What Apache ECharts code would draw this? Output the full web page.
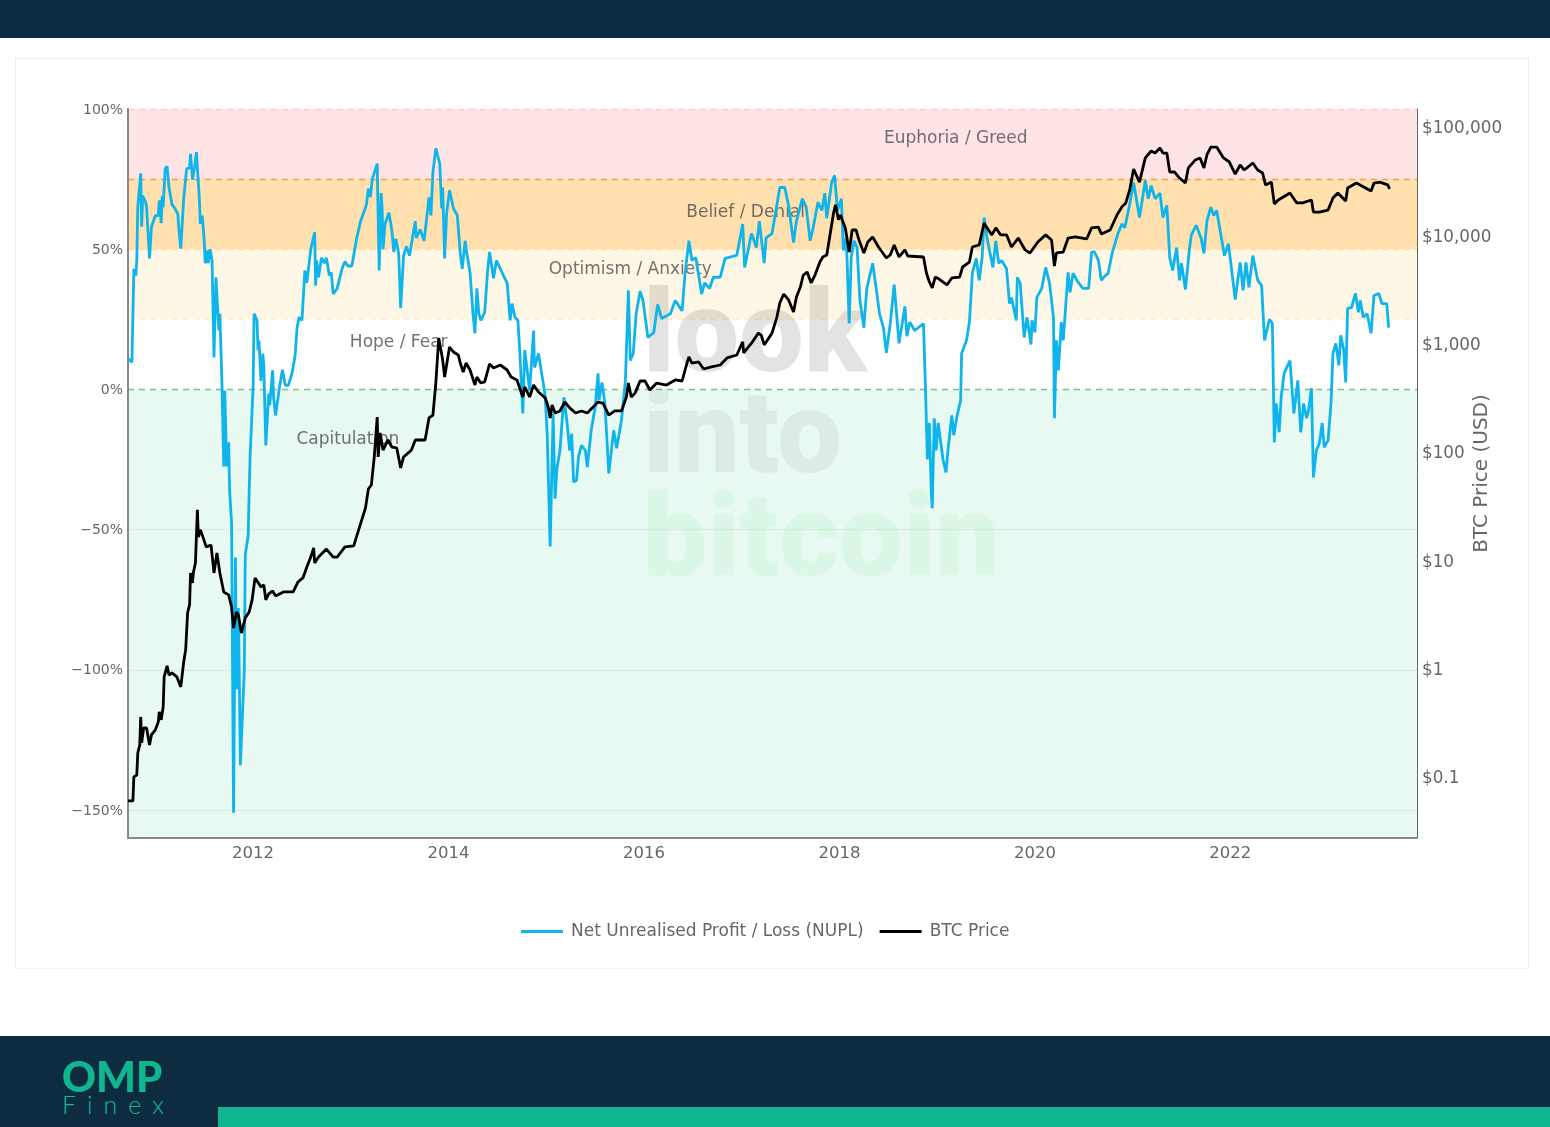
<!DOCTYPE html>
<html>
<head>
<meta charset="utf-8">
<title>NUPL</title>
<script src="https://cdn.jsdelivr.net/npm/echarts@6/dist/echarts.min.js"></script>
<style>
html, body { margin: 0; padding: 0; background: #fff; }
#page { position: relative; width: 1550px; height: 1127px; overflow: hidden; background: #fff; }
.bar { position: absolute; background: #0e2c40; left: 0; width: 1550px; }
#card { position: absolute; left: 15px; top: 58px; width: 1514px; height: 911px; border: 1px solid #eeeeee; border-bottom-color: #f2f2f2; box-sizing: border-box; }
#strip { position: absolute; left: 218px; top: 1107px; width: 1332px; height: 20px; background: #10b690; }
#omp { position: absolute; left: 62px; top: 1051px; font: 900 42px/50px Lato, sans-serif; color: #10b690; }
#finex { position: absolute; left: 62px; top: 1089px; font: 300 25px/30px Lato, sans-serif; color: #10b690; letter-spacing: 11px; }
#chart { position: absolute; left: 0; top: 0; width: 1550px; height: 1127px; }
</style>
</head>
<body>
<div id="page">
  <div class="bar" style="top:0;height:38px"></div>
  <div id="card"></div>
  <div class="bar" style="top:1036px;height:91px"></div>
  <div id="strip"></div>
  <div id="omp">OMP</div>
  <div id="finex">Finex</div>
  <div id="chart"></div>
</div>
<script>
var yearTicks = [2012, 2014, 2016, 2018, 2020, 2022];
var nuplTicks = [-150, -100, -50, 0, 50, 100];
var priceTicks = [0.1, 1, 10, 100, 1000, 10000, 100000];

// [year, NUPL %]
var nuplPoints = [
[2010.72,11],[2010.76,9.7],[2010.78,43],[2010.80,40.6],[2010.81,46],[2010.82,65],[2010.85,77],[2010.86,58],[2010.87,69],[2010.90,66.8],
[2010.91,65],[2010.94,46.7],[2010.96,57.9],[2010.98,58.5],[2011.00,62],[2011.03,62],[2011.04,67.4],[2011.06,59.3],[2011.07,69],[2011.08,65],
[2011.10,78.7],[2011.12,79.5],[2011.14,71.9],[2011.17,66],[2011.20,64.5],[2011.23,62.6],[2011.24,57.4],[2011.26,50.2],[2011.29,68],[2011.32,78.7],
[2011.35,79],[2011.36,84],[2011.38,74.8],[2011.40,79],[2011.42,84.6],[2011.44,85],[2011.45,68],[2011.46,59],[2011.48,62],[2011.50,53],
[2011.51,45],[2011.53,49.6],[2011.54,45],[2011.56,50],[2011.58,46],[2011.60,11.4],[2011.62,40],[2011.64,40.3],[2011.65,21],[2011.66,27],
[2011.68,3.9],[2011.70,-27.5],[2011.71,-0.4],[2011.73,-27.5],[2011.75,-18.9],[2011.76,-36],[2011.78,-47.8],[2011.80,-151],[2011.82,-60],[2011.83,-107],
[2011.85,-78],[2011.87,-134],[2011.89,-134],[2011.91,-100],[2011.92,-59],[2011.95,-52],[2011.96,-36],[2011.97,-23.5],[2012.00,0.7],[2012.01,27],
[2012.04,24.6],[2012.05,14],[2012.06,17.5],[2012.08,3],[2012.10,12.8],[2012.11,8],[2012.13,-20],[2012.16,-1.5],[2012.17,-5.7],[2012.20,6.8],
[2012.21,-2.8],[2012.23,-9.3],[2012.27,0.7],[2012.30,7],[2012.33,1.4],[2012.36,1.4],[2012.40,6],[2012.43,12],[2012.45,22],[2012.47,25.7],
[2012.50,24.6],[2012.53,42.4],[2012.55,38],[2012.59,50],[2012.63,56],[2012.64,37],[2012.65,46],[2012.67,40],[2012.70,47],[2012.73,45],
[2012.75,47],[2012.78,40.6],[2012.80,41.7],[2012.82,34],[2012.86,36],[2012.91,43],[2012.94,45.6],[2012.97,44],[2013.01,44],[2013.06,53.8],
[2013.10,60],[2013.14,63.8],[2013.16,66],[2013.18,71.6],[2013.20,68.6],[2013.22,75],[2013.27,80.5],[2013.29,42.4],[2013.31,70],[2013.32,65],
[2013.33,50],[2013.35,59],[2013.39,63],[2013.42,56.7],[2013.44,49],[2013.46,53.7],[2013.49,48.5],[2013.51,29],[2013.54,47.7],[2013.57,51],
[2013.60,47.7],[2013.66,60],[2013.67,54],[2013.71,57],[2013.75,53],[2013.80,68.5],[2013.82,62],[2013.84,77.4],[2013.87,86],[2013.91,80.5],
[2013.93,64.5],[2013.94,72],[2013.96,46.7],[2013.98,62.7],[2014.01,71],[2014.05,64.5],[2014.09,62],[2014.12,48.5],[2014.14,43],[2014.17,53],
[2014.19,47.8],[2014.22,41.7],[2014.25,27],[2014.27,20],[2014.29,36],[2014.31,27],[2014.33,24.6],[2014.37,27.5],[2014.40,42.4],[2014.42,49],
[2014.46,39.6],[2014.49,46],[2014.53,43],[2014.57,40],[2014.60,38],[2014.63,24.6],[2014.65,30.6],[2014.68,25.7],[2014.71,24.6],[2014.73,12.8],
[2014.76,-8.6],[2014.78,14],[2014.83,-0.4],[2014.87,21],[2014.88,7.8],[2014.92,12.8],[2014.97,2],[2014.99,-2.8],[2015.01,-16.4],[2015.04,-56],
[2015.07,-8.6],[2015.09,-39],[2015.11,-28],[2015.14,-21.8],[2015.18,-2.8],[2015.21,-11],[2015.24,-21.8],[2015.26,-15.8],[2015.28,-33],[2015.31,-32.4],
[2015.33,-24],[2015.36,-20],[2015.40,-21.8],[2015.42,-27.7],[2015.46,-14.6],[2015.50,-6.4],[2015.53,5.7],[2015.54,-3.9],[2015.57,2.5],[2015.60,-5],
[2015.64,-30],[2015.67,-20.7],[2015.69,-14.6],[2015.72,-21],[2015.77,-11],[2015.81,3.2],[2015.84,35.3],[2015.86,10.3],[2015.89,12.8],[2015.92,27],
[2015.96,35],[2015.99,31.7],[2016.04,18.5],[2016.10,20.3],[2016.14,30.3],[2016.18,25.3],[2016.27,27],[2016.32,31.7],[2016.39,28],[2016.42,41.4],
[2016.46,53],[2016.49,46],[2016.53,47],[2016.59,34],[2016.62,38],[2016.67,36],[2016.71,40],[2016.78,40],[2016.83,46.7],[2016.95,47.8],
[2017.01,59],[2017.03,43.5],[2017.10,55.6],[2017.15,50.6],[2017.18,60],[2017.23,45],[2017.25,54],[2017.31,55.6],[2017.39,72],[2017.44,72],
[2017.48,65.6],[2017.53,52.4],[2017.56,60],[2017.62,68],[2017.66,65],[2017.70,53],[2017.73,57.4],[2017.78,66.7],[2017.82,63.8],[2017.85,70],
[2017.87,61],[2017.92,73.8],[2017.95,76.3],[2017.98,63.8],[2018.02,68],[2018.04,49.6],[2018.07,54],[2018.10,23.5],[2018.12,47],[2018.15,53],
[2018.18,50.6],[2018.21,31.7],[2018.25,22],[2018.28,36],[2018.34,45],[2018.38,35],[2018.41,27],[2018.45,22],[2018.48,13],[2018.52,23.5],
[2018.56,37.4],[2018.61,16.4],[2018.67,29.6],[2018.69,19],[2018.72,24],[2018.77,21],[2018.86,23.5],[2018.88,0.7],[2018.90,-25],[2018.92,-12],
[2018.94,-37],[2018.95,-42.4],[2018.97,-10.3],[2018.99,-21.8],[2019.01,-12],[2019.06,-25],[2019.09,-29.6],[2019.11,-21.8],[2019.15,-9.3],[2019.17,-16.4],
[2019.20,-10],[2019.24,-3.9],[2019.25,12.8],[2019.30,17.5],[2019.33,24],[2019.36,41.4],[2019.40,46.7],[2019.43,38.9],[2019.46,47],[2019.48,61.3],
[2019.51,54],[2019.55,47],[2019.57,43.5],[2019.60,53],[2019.63,45],[2019.66,46],[2019.71,43],[2019.74,30.6],[2019.76,32.8],[2019.81,24.6],
[2019.82,40],[2019.85,37.8],[2019.89,18.5],[2019.92,25.7],[2019.96,16],[2019.97,24.6],[2020.00,20.3],[2020.02,32.8],[2020.07,36],[2020.11,43.5],
[2020.15,37.8],[2020.19,25.7],[2020.20,-10.3],[2020.22,17.5],[2020.24,6.8],[2020.27,24],[2020.29,17.5],[2020.34,41.7],[2020.36,34.6],[2020.39,41.4],
[2020.43,38.9],[2020.49,36],[2020.55,36],[2020.58,49],[2020.61,49],[2020.65,46],[2020.68,38.9],[2020.72,40.6],[2020.75,41.4],[2020.79,48.5],
[2020.85,55.6],[2020.89,59],[2020.92,57.7],[2020.97,66],[2021.01,73.8],[2021.07,61.3],[2021.13,74.5],[2021.16,68],[2021.19,72.7],[2021.23,68],
[2021.28,70],[2021.31,61.3],[2021.35,65.6],[2021.38,47],[2021.41,42.4],[2021.45,50.6],[2021.48,38.9],[2021.50,45],[2021.54,35.6],[2021.58,49.6],
[2021.60,55],[2021.65,58.5],[2021.70,54],[2021.73,48.5],[2021.76,60],[2021.80,65],[2021.83,62],[2021.86,63.8],[2021.89,57.7],[2021.94,47.7],
[2021.98,52],[2022.01,43.5],[2022.05,32],[2022.10,45.3],[2022.13,35.3],[2022.16,45.3],[2022.19,36.4],[2022.23,47.7],[2022.28,38.9],[2022.32,37],
[2022.35,17.5],[2022.40,25],[2022.43,23.5],[2022.45,-18.9],[2022.47,-5],[2022.50,-15.3],[2022.52,-2.8],[2022.55,5.7],[2022.57,5.7],[2022.61,10.3],
[2022.65,-8.6],[2022.69,3.2],[2022.72,-15.3],[2022.75,-5],[2022.78,-10.3],[2022.80,-7.5],[2022.83,0.4],[2022.85,-31.4],[2022.88,-21.8],[2022.91,-19.3],
[2022.94,-12],[2022.96,-20.7],[2023.00,-18.2],[2023.03,-5],[2023.05,12.8],[2023.08,16.4],[2023.11,8.6],[2023.13,19.3],[2023.16,14],[2023.18,2.5],
[2023.20,28.9],[2023.24,29.2],[2023.28,34.2],[2023.31,27.5],[2023.33,31.7],[2023.36,25.7],[2023.40,27],[2023.44,20],[2023.47,33.5],[2023.52,34.2],
[2023.55,30.6],[2023.60,30.6],[2023.62,22]
];

// [year, BTC price in USD]
var btcPoints = [
[2010.72,0.06],[2010.77,0.06],[2010.78,0.10],[2010.81,0.104],[2010.82,0.166],[2010.84,0.197],[2010.85,0.358],[2010.86,0.206],[2010.88,0.283],[2010.91,0.283],
[2010.94,0.197],[2010.96,0.244],[2011.00,0.272],[2011.03,0.321],[2011.04,0.398],[2011.06,0.336],[2011.08,0.443],[2011.09,0.838],[2011.12,1.06],[2011.14,0.873],
[2011.17,0.912],[2011.22,0.838],[2011.26,0.678],[2011.29,1.15],[2011.31,1.49],[2011.33,3.27],[2011.35,3.87],[2011.36,7.64],[2011.38,6.18],[2011.39,7.80],
[2011.41,9.44],[2011.43,29.2],[2011.44,16.4],[2011.46,19.1],[2011.49,16.1],[2011.52,13.3],[2011.57,13.8],[2011.60,7.64],[2011.63,11.7],[2011.66,7.64],
[2011.70,5.10],[2011.72,4.99],[2011.75,4.79],[2011.78,3.71],[2011.80,2.37],[2011.83,3.33],[2011.85,3.13],[2011.88,2.13],[2011.92,2.94],[2011.96,3.33],
[2011.99,4.31],[2012.02,6.87],[2012.04,6.87],[2012.08,5.68],[2012.11,5.92],[2012.13,4.31],[2012.16,4.89],[2012.20,5.21],[2012.23,4.69],[2012.31,5.10],
[2012.41,5.10],[2012.46,6.31],[2012.51,6.87],[2012.55,8.67],[2012.59,10.7],[2012.62,13.0],[2012.63,9.44],[2012.67,10.7],[2012.75,12.7],[2012.82,10.7],
[2012.86,10.7],[2012.94,13.3],[2013.03,13.6],[2013.08,19.1],[2013.15,30.4],[2013.18,45.5],[2013.21,49.5],[2013.24,89.9],[2013.27,210],[2013.28,89.9],
[2013.30,150],[2013.33,104],[2013.38,129],[2013.42,111],[2013.47,109],[2013.51,71.1],[2013.54,89.9],[2013.62,104],[2013.66,129],[2013.76,129],
[2013.80,206],[2013.84,219],[2013.87,433],[2013.90,1130],[2013.91,1150],[2013.94,706],[2013.96,492],[2014.01,931],[2014.05,838],[2014.10,785],
[2014.12,662],[2014.15,547],[2014.18,662],[2014.22,571],[2014.27,415],[2014.29,492],[2014.33,433],[2014.37,443],[2014.42,649],[2014.46,596],
[2014.53,635],[2014.60,571],[2014.64,492],[2014.70,462],[2014.76,322],[2014.78,398],[2014.83,322],[2014.87,415],[2014.92,358],[2014.99,315],
[2015.02,260],[2015.04,206],[2015.06,272],[2015.09,229],[2015.14,239],[2015.19,289],[2015.24,255],[2015.30,229],[2015.36,239],[2015.42,229],
[2015.48,260],[2015.53,289],[2015.58,283],[2015.64,219],[2015.70,239],[2015.77,239],[2015.82,322],[2015.84,433],[2015.87,322],[2015.91,351],
[2015.96,452],[2016.01,452],[2016.06,373],[2016.13,433],[2016.23,415],[2016.32,462],[2016.39,452],[2016.44,662],[2016.46,753],[2016.49,662],
[2016.56,678],[2016.61,583],[2016.69,610],[2016.78,635],[2016.85,738],[2016.95,785],[2017.01,1040],[2017.02,820],[2017.10,1010],[2017.17,1250],
[2017.20,1200],[2017.23,973],[2017.31,1250],[2017.36,1760],[2017.39,2370],[2017.43,2870],[2017.48,2530],[2017.53,1960],[2017.56,2700],[2017.60,3330],
[2017.63,4300],[2017.67,4580],[2017.71,3630],[2017.75,4300],[2017.80,5670],[2017.83,6310],[2017.87,6580],[2017.90,9660],[2017.94,16100],[2017.96,19100],
[2017.99,13900],[2018.01,15400],[2018.06,11700],[2018.10,7010],[2018.13,11200],[2018.17,11200],[2018.20,9060],[2018.25,6870],[2018.29,8670],[2018.34,9660],
[2018.40,7800],[2018.48,6180],[2018.52,6580],[2018.56,8150],[2018.61,6310],[2018.67,7330],[2018.70,6440],[2018.86,6310],[2018.89,4490],[2018.92,3710],
[2018.95,3270],[2018.98,4120],[2019.02,3950],[2019.10,3480],[2019.15,4040],[2019.23,4120],[2019.26,5100],[2019.33,5670],[2019.36,7800],[2019.43,8150],
[2019.48,13000],[2019.51,11700],[2019.56,10100],[2019.60,11700],[2019.65,10100],[2019.71,10100],[2019.76,7800],[2019.83,9440],[2019.90,7330],[2019.95,6870],
[2020.03,8670],[2020.11,10100],[2020.17,9060],[2020.20,5210],[2020.22,6870],[2020.29,7010],[2020.34,9440],[2020.41,9660],[2020.53,9250],[2020.58,11700],
[2020.65,11900],[2020.66,11700],[2020.68,10300],[2020.77,11200],[2020.84,15400],[2020.89,18300],[2020.93,19900],[2020.97,26200],[2021.01,40900],[2021.07,31000],
[2021.13,51800],[2021.19,60000],[2021.23,57500],[2021.28,64000],[2021.31,57500],[2021.35,57500],[2021.38,38400],[2021.43,38400],[2021.48,33800],[2021.54,30400],
[2021.57,41900],[2021.64,49500],[2021.69,51800],[2021.73,41900],[2021.76,55200],[2021.80,65300],[2021.86,65300],[2021.93,51800],[2021.99,47500],[2022.05,36800],
[2022.10,44600],[2022.14,40100],[2022.18,42700],[2022.23,46500],[2022.28,40100],[2022.33,37600],[2022.36,29200],[2022.42,31000],[2022.45,19500],[2022.49,21200],
[2022.61,24600],[2022.68,19900],[2022.74,19900],[2022.83,21200],[2022.85,16400],[2022.91,16400],[2023.00,17100],[2023.05,22100],[2023.10,24600],[2023.18,20700],
[2023.20,27300],[2023.29,30400],[2023.44,25600],[2023.47,30400],[2023.53,31000],[2023.61,29200],[2023.63,26800]
];

// NUPL sentiment bands
var bandEdges = [100, 75, 50, 25, 0, -160];
var bandColors = ['#ffe4e6', '#ffe0ae', '#fff7e6', '#ffffff', '#e8f9f1'];
var bandLineValues = [100, 75, 50, 25, 0];
var bandLineColors = ['#ffc9ce', '#fb9a45', '#fddfa8', '#ffeed2', '#7dc08a'];
var gridLineValues = [-50, -100, -150];

var zoneNames = ['Euphoria / Greed', 'Belief / Denial', 'Optimism / Anxiety', 'Hope / Fear', 'Capitulation'];
var zoneYears = [2019.19, 2017.04, 2015.86, 2013.49, 2012.97];
var zoneValues = [89.5, 63.2, 42.7, 16.6, -17.8];

var textGrey = '#666666';
var font = '"DejaVu Sans", Verdana, sans-serif';

var chart = echarts.init(document.getElementById('chart'));

var areas = [];
for (var i = 0; i < bandColors.length; i++) {
    areas.push([{ yAxis: bandEdges[i], itemStyle: { color: bandColors[i], opacity: 1 } }, { yAxis: bandEdges[i + 1] }]);
}
var lines = bandLineValues.map(function (v, i) {
    return { yAxis: v, lineStyle: { color: bandLineColors[i], type: [6, 5], width: 1.3, opacity: 1 } };
});
gridLineValues.forEach(function (v) {
    lines.push({ yAxis: v, lineStyle: { color: '#dbeee5', type: 'solid', width: 1.3, opacity: 1 } });
});
var zones = zoneNames.map(function (n, i) {
    return { name: n, value: [zoneYears[i], zoneValues[i]] };
});

function watermark(txt, y, color) {
    return {
        type: 'text', z: 1, silent: true, left: 643, top: y,
        style: { text: txt, font: '900 115px Roboto, "Liberation Sans", sans-serif', fill: color }
    };
}

chart.setOption({
    animation: false,
    backgroundColor: 'transparent',
    textStyle: { fontFamily: font },
    grid: { left: 128, right: 133, top: 109, bottom: 289, containLabel: false },
    legend: {
        left: 521, top: 923, itemWidth: 42, itemHeight: 3, itemGap: 16, padding: 0,
        icon: 'rect',
        data: ['Net Unrealised Profit / Loss (NUPL)', 'BTC Price'],
        textStyle: { color: textGrey, fontSize: 17, fontFamily: font, padding: [0, 0, 0, 3] }
    },
    graphic: [
        watermark('look', 285, 'rgba(0,0,0,0.11)'),
        watermark('into', 386, 'rgba(0,0,0,0.05)'),
        watermark('bitcoin', 489, 'rgba(110,235,140,0.10)')
    ],
    xAxis: {
        type: 'value', min: 2010.72, max: 2023.91,
        axisLine: { show: true, onZero: false, lineStyle: { color: '#888888', width: 2 } },
        axisTick: { show: false },
        splitLine: { show: false },
        axisLabel: { color: textGrey, fontSize: 16.5, margin: 7, customValues: yearTicks, formatter: function (v) { return String(v); } }
    },
    yAxis: [{
        type: 'value', min: -160, max: 100,
        axisLine: { show: true, lineStyle: { color: '#888888', width: 2 } },
        axisTick: { show: false, customValues: nuplTicks },
        splitLine: { show: false },
        axisLabel: {
            color: textGrey, fontSize: 14, margin: 5, verticalAlign: 'top', lineHeight: 2, customValues: nuplTicks,
            formatter: function (v) { return String(v).replace('-', '\u2212') + '%'; }
        }
    }, {
        type: 'log', logBase: 10, min: 0.0273, max: 146600, position: 'right',
        name: 'BTC Price (USD)', nameLocation: 'middle', nameGap: 55, nameRotate: 90, nameMoveOverlap: false,
        nameTextStyle: { color: textGrey, fontSize: 20 },
        axisLine: { show: true, lineStyle: { color: '#666666', width: 1 } },
        axisTick: { show: false, customValues: priceTicks },
        splitLine: { show: false },
        axisLabel: {
            color: textGrey, fontSize: 16.8, margin: 5, verticalAlign: 'top', lineHeight: 4, customValues: priceTicks,
            formatter: function (v) { return '$' + Number(v).toLocaleString('en-US'); }
        }
    }],
    series: [{
        name: 'bands', type: 'line', data: [], z: 0, silent: true,
        markArea: { silent: true, z: 0, data: areas },
        markLine: { silent: true, z: 0, symbol: 'none', label: { show: false }, data: lines }
    }, {
        name: 'zones', type: 'scatter', data: zones, z: 2, silent: true, symbolSize: 1,
        itemStyle: { color: 'transparent' },
        label: { show: true, position: 'inside', formatter: '{b}', color: '#4d4d4d', fontSize: 17, fontFamily: font }
    }, {
        name: 'Net Unrealised Profit / Loss (NUPL)', type: 'line', data: nuplPoints, z: 3,
        showSymbol: false, symbol: 'none', lineStyle: { color: '#0fb4ec', width: 2.8 }, itemStyle: { color: '#0fb4ec' }
    }, {
        name: 'BTC Price', type: 'line', yAxisIndex: 1, data: btcPoints, z: 4,
        showSymbol: false, symbol: 'none', lineStyle: { color: '#000000', width: 2.8 }, itemStyle: { color: '#000000' }
    }]
});
</script>
</body>
</html>
